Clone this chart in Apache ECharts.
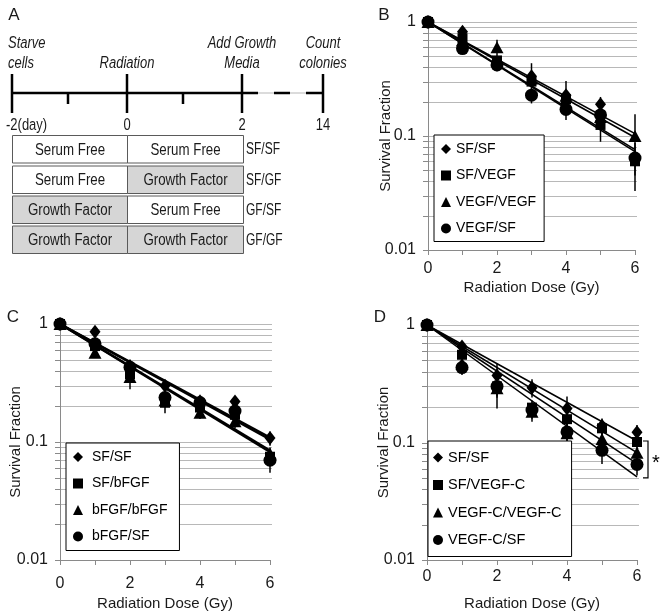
<!DOCTYPE html>
<html><head><meta charset="utf-8">
<script src="https://cdn.jsdelivr.net/npm/echarts@6/dist/echarts.min.js"></script>
<style>html,body{margin:0;padding:0;background:#fff}#c{width:664px;height:616px}</style>
</head><body><div id="c"></div>
<script>
// ---------------- DATA ----------------
const dose = [0, 1, 2, 3, 4, 5, 6];
const yTickLabels = ['0.01', '0.1', '1'];
const gridValues = [0.01,0.02,0.03,0.04,0.05,0.06,0.07,0.08,0.09,0.1,0.2,0.3,0.4,0.5,0.6,0.7,0.8,0.9,1];

// Panel B
const bNames = ['SF/SF', 'SF/VEGF', 'VEGF/VEGF', 'VEGF/SF'];
const bSFSF     = [1, 0.82, 0.43, 0.335, 0.228, 0.19, 0.065];
const bSFVEGF   = [1, 0.72, 0.46, 0.30, 0.21, 0.125, 0.06];
const bVEGFVEGF = [1, 0.69, 0.60, 0.32, 0.225, 0.147, 0.10];
const bVEGFSF   = [1, 0.585, 0.42, 0.228, 0.171, 0.153, 0.064];
const bErrSFSF     = [0, 0.05, 0.03, 0.10, 0.075, 0.03, 0.01];
const bErrSFVEGF   = [0, 0.04, 0.03, 0.03, 0.03, 0.036, 0.027];
const bErrVEGFVEGF = [0, 0.04, 0.10, 0.03, 0.03, 0.02, 0.055];
const bErrVEGFSF   = [0, 0.04, 0.05, 0.035, 0.033, 0.02, 0.01];
const bTrendEnd = [0.097, 0.076, 0.105, 0.073];

// Panel C
const cNames = ['SF/SF', 'SF/bFGF', 'bFGF/bFGF', 'bFGF/SF'];
const cSFSF     = [1, 0.86, 0.44, 0.30, 0.222, 0.22, 0.108];
const cSFbFGF   = [1, 0.65, 0.375, 0.215, 0.196, 0.17, 0.075];
const cbFGFbFGF = [1, 0.57, 0.355, 0.225, 0.177, 0.15, 0.08];
const cbFGFSF   = [1, 0.68, 0.43, 0.238, 0.216, 0.183, 0.07];
const cErrSFSF     = [0, 0.04, 0.03, 0.02, 0.02, 0.025, 0.015];
const cErrSFbFGF   = [0, 0.03, 0.03, 0.04, 0.02, 0.02, 0.01];
const cErrbFGFbFGF = [0, 0.04, 0.075, 0.02, 0.02, 0.02, 0.01];
const cErrbFGFSF   = [0, 0.03, 0.03, 0.02, 0.02, 0.02, 0.015];
const cTrendEnd = [0.109, 0.085, 0.082, 0.105];

// Panel D
const dNames = ['SF/SF', 'SF/VEGF-C', 'VEGF-C/VEGF-C', 'VEGF-C/SF'];
const dSFSF   = [1, 0.657, 0.371, 0.293, 0.195, 0.139, 0.122];
const dSFVC   = [1, 0.558, 0.30, 0.198, 0.158, 0.132, 0.101];
const dVCVC   = [1, 0.47, 0.29, 0.183, 0.12, 0.107, 0.082];
const dVCSF   = [1, 0.434, 0.30, 0.189, 0.123, 0.0857, 0.065];
const dErrSFSF = [0, 0.03, 0.10, 0.052, 0.051, 0.021, 0.019];
const dErrSFVC = [0, 0.03, 0.05, 0.03, 0.03, 0.02, 0.01];
const dErrVCVC = [0, 0.03, 0.05, 0.033, 0.03, 0.02, 0.01];
const dErrVCSF = [0, 0.058, 0.105, 0.03, 0.034, 0.02, 0.0125];
const dTrendEnd = [0.103, 0.082, 0.066, 0.051];
const dBracket = [6, 0.103, 0.05];

// Panel A
const timelineDays = ['-2(day)', '0', '2', '14'];
const tableRows = [
  ['Serum Free', 'Serum Free', 'SF/SF'],
  ['Serum Free', 'Growth Factor', 'SF/GF'],
  ['Growth Factor', 'Serum Free', 'GF/SF'],
  ['Growth Factor', 'Growth Factor', 'GF/GF']
];

// ---------------- STYLE ----------------
const FONT = "'Liberation Sans', Arial, sans-serif";
const TXT = '#1a1a1a';
const symbols = ['diamond', 'rect', 'triangle', 'circle'];
const symSizes = [[11, 14], 10, [13, 12], 13];

const grids = [
  {left: 428, top: 22, width: 207, height: 228},
  {left: 60, top: 324, width: 210, height: 236},
  {left: 427, top: 325, width: 210, height: 235}
];
const xLabelMargin = [11, 16, 9];
const xNameGap = [30, 36, 36];
const yNameGap = [35, 37, 36];
const trendWidth = [1.6, 2.2, 1.5];

const chart = echarts.init(document.getElementById('c'), null, {renderer: 'canvas'});

const xAxes = grids.map((g, i) => ({
  type: 'value', gridIndex: i, min: 0, max: 6, interval: 1,
  name: 'Radiation Dose (Gy)', nameLocation: 'middle', nameGap: xNameGap[i],
  nameTextStyle: {fontFamily: FONT, fontSize: 15, color: TXT},
  axisLine: {lineStyle: {color: '#8a8a8a', width: 1}},
  axisTick: {show: true, length: 5, lineStyle: {color: '#8a8a8a'}},
  axisLabel: {margin: xLabelMargin[i], fontFamily: FONT, fontSize: 16, color: TXT,
    formatter: v => (v % 2 === 0 ? String(v) : '')},
  splitLine: {show: false}
}));
const yAxes = grids.map((g, i) => ({
  type: 'log', logBase: 10, gridIndex: i, min: 0.01, max: 1,
  name: 'Survival Fraction', nameLocation: 'middle', nameGap: yNameGap[i],
  nameMoveOverlap: false,
  nameTextStyle: {fontFamily: FONT, fontSize: 15, color: TXT},
  axisLine: {show: true, lineStyle: {color: '#8a8a8a', width: 1}},
  axisTick: {show: false},
  axisLabel: {margin: 12, fontFamily: FONT, fontSize: 16, color: TXT,
    formatter: v => {
      const k = Math.round(Math.log10(v)) + 2;
      return yTickLabels[k] !== undefined ? yTickLabels[k] : '';
    }},
  splitLine: {show: false}
}));

const series = [];

function addPanel(gi, names, vals, errs, trendEnds) {
  series.push({
    type: 'custom', xAxisIndex: gi, yAxisIndex: gi, silent: true, clip: false, z: 0,
    data: gridValues.map(v => [0, v]), encode: {x: 0, y: 1},
    renderItem: (params, api) => {
      const v = api.value(1);
      const a = api.coord([0, v]);
      const b = api.coord([6, v]);
      const y = Math.round(a[1]) + 0.5;
      const children = [
        {type: 'line', shape: {x1: a[0] - 5, y1: y, x2: a[0], y2: y}, style: {stroke: '#8a8a8a', lineWidth: 1}}
      ];
      if (v > 0.011) children.push({type: 'line', shape: {x1: a[0], y1: y, x2: b[0] + 2, y2: y}, style: {stroke: '#b8b8b8', lineWidth: 1}});
      return {type: 'group', children};
    }
  });
  trendEnds.forEach((e) => {
    series.push({
      type: 'line', xAxisIndex: gi, yAxisIndex: gi, silent: true, z: 2,
      data: [[dose[0], 1], [dose[dose.length - 1], e]], showSymbol: false, symbol: 'none',
      lineStyle: {color: '#000', width: trendWidth[gi]}, animation: false
    });
  });
  vals.forEach((arr, k) => {
    const eb = arr.map((v, j) => [dose[j], Math.max(v - errs[k][j], 0.011), v + errs[k][j]]).filter((d, j) => errs[k][j] > 0);
    series.push({
      type: 'custom', xAxisIndex: gi, yAxisIndex: gi, silent: true, z: 3,
      data: eb, encode: {x: 0, y: [1, 2]},
      renderItem: (params, api) => {
        const a = api.coord([api.value(0), api.value(2)]);
        const b = api.coord([api.value(0), api.value(1)]);
        return {type: 'line', shape: {x1: a[0], y1: a[1], x2: b[0], y2: b[1]}, style: {stroke: '#000', lineWidth: 1.5}};
      }
    });
  });
  vals.forEach((arr, k) => {
    series.push({
      type: 'scatter', name: names[k], xAxisIndex: gi, yAxisIndex: gi, z: 4,
      symbol: symbols[k], symbolSize: symSizes[k],
      itemStyle: {color: '#000', opacity: 1},
      data: arr.map((v, j) => [dose[j], v])
    });
  });
}

addPanel(0, bNames, [bSFSF, bSFVEGF, bVEGFVEGF, bVEGFSF], [bErrSFSF, bErrSFVEGF, bErrVEGFVEGF, bErrVEGFSF], bTrendEnd);
addPanel(1, cNames, [cSFSF, cSFbFGF, cbFGFbFGF, cbFGFSF], [cErrSFSF, cErrSFbFGF, cErrbFGFbFGF, cErrbFGFSF], cTrendEnd);
addPanel(2, dNames, [dSFSF, dSFVC, dVCVC, dVCSF], [dErrSFSF, dErrSFVC, dErrVCVC, dErrVCSF], dTrendEnd);

series.push({
  type: 'custom', xAxisIndex: 2, yAxisIndex: 2, silent: true, clip: false, z: 5,
  data: [dBracket], encode: {x: 0, y: [1, 2]},
  renderItem: (params, api) => {
    const a = api.coord([api.value(0), api.value(1)]);
    const b = api.coord([api.value(0), api.value(2)]);
    const x = a[0] + 11;
    return {type: 'group', children: [
      {type: 'polyline', shape: {points: [[x - 5, a[1]], [x, a[1]], [x, b[1]], [x - 5, b[1]]]}, style: {stroke: '#000', lineWidth: 1.2, fill: null}},
      {type: 'text', style: {text: '*', x: x + 4, y: (a[1] + b[1]) / 2 + 4, fontSize: 20, fontFamily: FONT, fill: '#000', verticalAlign: 'middle'}}
    ]};
  }
});

function legendFor(names, left, top, fontSize, padding, textPad) {
  return {
    orient: 'vertical', left, top, padding, itemGap: 12.5,
    itemWidth: 10, itemHeight: 10, borderColor: '#000', borderWidth: 1, backgroundColor: '#fff',
    selectedMode: false,
    textStyle: {fontFamily: FONT, fontSize, color: '#000', lineHeight: 14, padding: textPad},
    data: names.map((n, k) => ({name: n, icon: symbols[k]}))
  };
}

// ---------------- PANEL A (schematic) ----------------
const G = [];
function txt(t, x, y, opts, sy) {
  G.push({type: 'text', x, y, scaleY: sy || 1, silent: true, style: Object.assign({text: t, x: 0, y: 0, fontFamily: FONT, fontSize: 13, fill: TXT, align: 'center', verticalAlign: 'middle'}, opts || {})});
}
function ln(x1, y1, x2, y2, w, c) {
  G.push({type: 'line', silent: true, shape: {x1, y1, x2, y2}, style: {stroke: c || '#000', lineWidth: w}});
}
const SY = 1.3;
txt('A', 14, 15, {fontSize: 17});
txt('B', 384, 15, {fontSize: 17});
txt('C', 13, 317, {fontSize: 17});
txt('D', 380, 317, {fontSize: 17});
txt('Starve', 8, 43, {align: 'left', fontStyle: 'italic'}, SY);
txt('cells', 8, 63, {align: 'left', fontStyle: 'italic'}, SY);
txt('Radiation', 127, 63, {fontStyle: 'italic'}, SY);
txt('Add Growth', 242, 43, {fontStyle: 'italic'}, SY);
txt('Media', 242, 63, {fontStyle: 'italic'}, SY);
txt('Count', 323, 43, {fontStyle: 'italic'}, SY);
txt('colonies', 323, 63, {fontStyle: 'italic'}, SY);
ln(242, 93, 323, 93, 1.5, '#cfcfcf');
ln(12, 93, 258, 93, 2.5);
ln(274, 93, 290, 93, 2.5);
ln(306, 93, 322, 93, 2.5);
[12, 127, 242, 323].forEach(x => ln(x, 74, x, 113, 2.5));
[68, 183].forEach(x => ln(x, 93, x, 104, 2.5));
txt(timelineDays[0], 6, 125, {align: 'left'}, SY);
txt(timelineDays[1], 127, 125, {}, SY);
txt(timelineDays[2], 242, 125, {}, SY);
txt(timelineDays[3], 323, 125, {}, SY);
const rowTops = [135, 165.5, 195.5, 225.5];
tableRows.forEach((r, i) => {
  const y = rowTops[i], h = 27.5;
  [[12, 115, r[0]], [127, 116, r[1]]].forEach(([x, w, label]) => {
    G.push({type: 'rect', silent: true, shape: {x: x + 0.5, y: y + 0.5, width: w, height: h},
      style: {fill: label === 'Growth Factor' ? '#d6d6d6' : '#fff', stroke: '#5a5a5a', lineWidth: 1}});
    txt(label, x + w / 2 + 0.5, y + h / 2 + 1, {fontSize: 13.3}, SY);
  });
  txt(r[2], 246, y + h / 2 + 1, {align: 'left', fontSize: 12}, SY);
});

chart.setOption({
  animation: false,
  backgroundColor: '#fff',
  grid: grids,
  xAxis: xAxes,
  yAxis: yAxes,
  legend: [
    legendFor(bNames, 434, 135, 14, [7, 8, 6, 7], [0, 0, 0, 0]),
    legendFor(cNames, 66, 443, 14, [7, 12, 7, 7], [0, 0, 0, 4]),
    legendFor(dNames, 428, 441, 14.5, [9, 10, 9, 5], [0, 0, 0, 0])
  ],
  series,
  graphic: G
});
</script></body></html>
